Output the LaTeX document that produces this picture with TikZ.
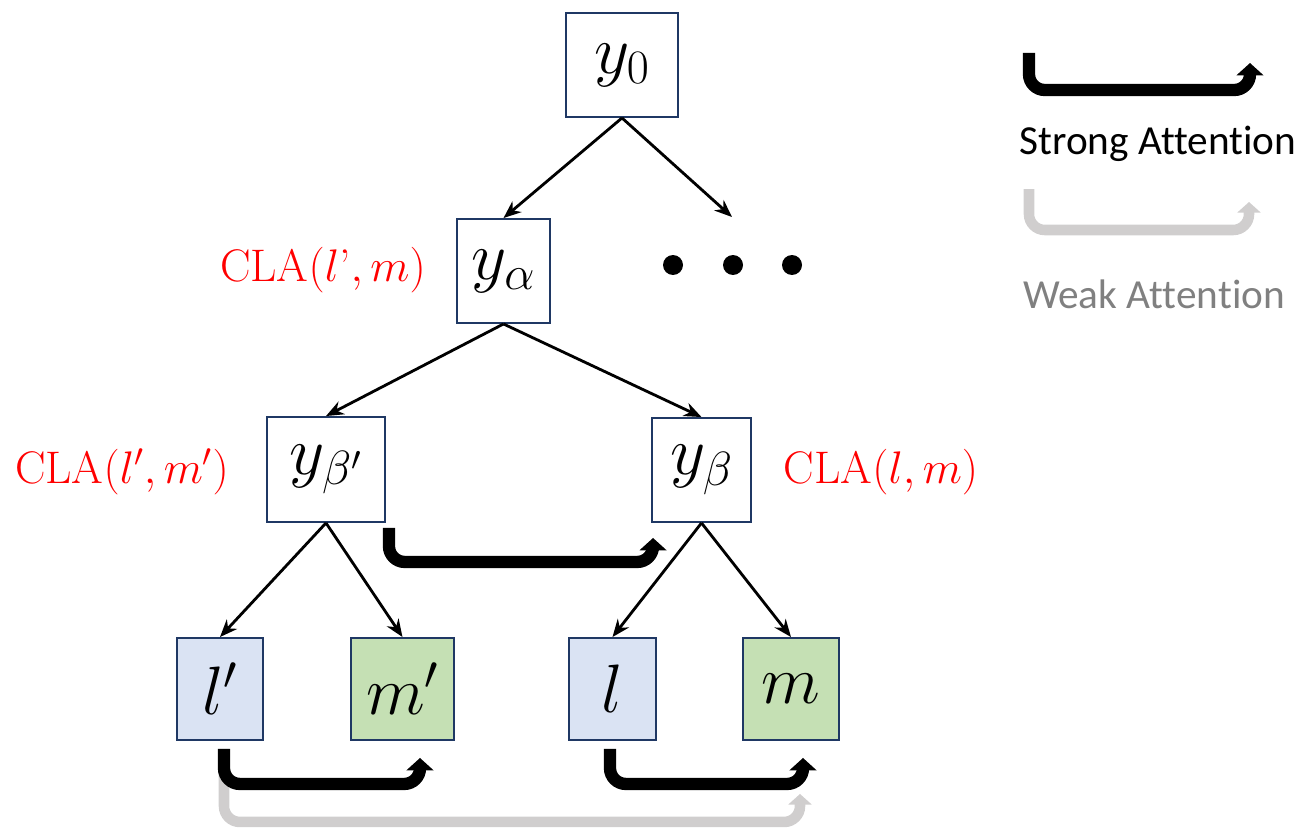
\RequirePackage{fix-cm}
\documentclass[tikz,border=0pt]{standalone}
\usepackage{fontspec}
\newfontfamily\legendfont[Ligatures=NoCommon]{Carlito}
\usetikzlibrary{arrows.meta,calc}

\definecolor{boxline}{HTML}{1F3864}
\definecolor{leafblue}{HTML}{DAE3F3}
\definecolor{leafgreen}{HTML}{C5E0B4}
\definecolor{weakgray}{HTML}{D0CECE}
\definecolor{weaktext}{HTML}{808080}

\tikzset{
  tbox/.style={draw=boxline, line width=1.1pt, inner sep=0pt, minimum height=2.08cm,
    font=\fontsize{39}{41}\selectfont},
  lfblue/.style={tbox, fill=leafblue, minimum height=2.04cm},
  lfgreen/.style={tbox, fill=leafgreen, minimum height=2.04cm},
  link/.style={-{Stealth[length=10pt,width=8pt]}, line width=1.6pt},
  strong/.style={-{Triangle[length=7pt,width=15pt]}, line width=7pt, rounded corners=9pt},
  weak/.style={-{Triangle[length=6pt,width=13pt]}, draw=weakgray, line width=6pt, rounded corners=9pt},
  cla/.style={text=red, inner sep=0pt, anchor=base, font=\fontsize{26}{28}\selectfont},
  legtext/.style={inner sep=0pt, anchor=base, font=\legendfont\fontsize{23.5}{26}\selectfont}
}

\begin{document}
\begin{tikzpicture}[x=0.02cm, y=-0.02cm]
  \useasboundingbox (0,0) rectangle (1309,828);

  % tree
  \node[tbox, minimum width=2.24cm] (y0)  at (622,65)    {$y_0$};
  \node[tbox, minimum width=1.86cm] (yal) at (503.5,271) {$y_\alpha$};
  \node[tbox, minimum width=2.36cm, minimum height=2.1cm] (ybp) at (326,469.5) {$y_{\beta'}$};
  \node[tbox, minimum width=1.98cm] (yb)  at (701.5,470) {$y_\beta$};
  \node[lfblue,  minimum width=1.72cm] (lp) at (220,689)   {$l'$};
  \node[lfgreen, minimum width=2.06cm] (mp) at (402.5,689) {$m'$};
  \node[lfblue,  minimum width=1.74cm] (l)  at (612.5,689) {$l$};
  \node[lfgreen, minimum width=1.92cm] (m)  at (791,689)   {$m$};

  % other branch
  \node[inner sep=0pt] (dots) at (733,265) {};
  \foreach \dx in {-60,0,59}
    \fill ($(dots)+(\dx,0)$) circle[radius=0.2cm];

  \draw[link] (y0.south) -- (yal.north);
  \draw[link] (y0.south) -- ($(dots)+(-1,-48)$);
  \draw[link] (yal.south) -- (ybp.north);
  \draw[link] (yal.south) -- (yb.north);
  \draw[link] (ybp.south) -- (lp.north);
  \draw[link] (ybp.south) -- (mp.north);
  \draw[link] (yb.south) -- (l.north);
  \draw[link] (yb.south) -- (m.north);

  % labels
  \node[cla] (claal) at (323,281) {$\mathrm{CLA}(l\mbox{’},m)$};
  \node[cla] (clabp) at (122,483) {$\mathrm{CLA}(l',m')$};
  \node[cla] (clab)  at (881,483) {$\mathrm{CLA}(l,m)$};

  % attention
  \draw[weak] ($(lp.south)+(4,8)$) |- ($(m.south)+(9,81)$) -- ($(m.south)+(9,53)$);
  \draw[strong] ($(ybp.south east)+(3,5)$) |- ($(yb.south west)+(2,39)$) -- ($(yb.south west)+(2,15)$);
  \draw[strong] ($(lp.south)+(4,8)$) |- ($(mp.south)+(17.5,43)$) -- ($(mp.south)+(17.5,17)$);
  \draw[strong] ($(l.south)+(-2.5,8)$) |- ($(m.south)+(12,43)$) -- ($(m.south)+(12,17)$);

  % legend
  \coordinate (sa1) at (1029,53);
  \coordinate (sa2) at (1250,63);
  \coordinate (wa1) at (1029,189);
  \coordinate (wa2) at (1249,202);
  \draw[strong] (sa1) |- ++(221,37) -- (sa2);
  \node[legtext] (strongtxt) at (1158,154) {Strong Attention};
  \draw[weak] (wa1) |- ++(220,41) -- (wa2);
  \node[legtext, text=weaktext] (weaktxt) at (1154,308) {Weak Attention};
\end{tikzpicture}
\end{document}
